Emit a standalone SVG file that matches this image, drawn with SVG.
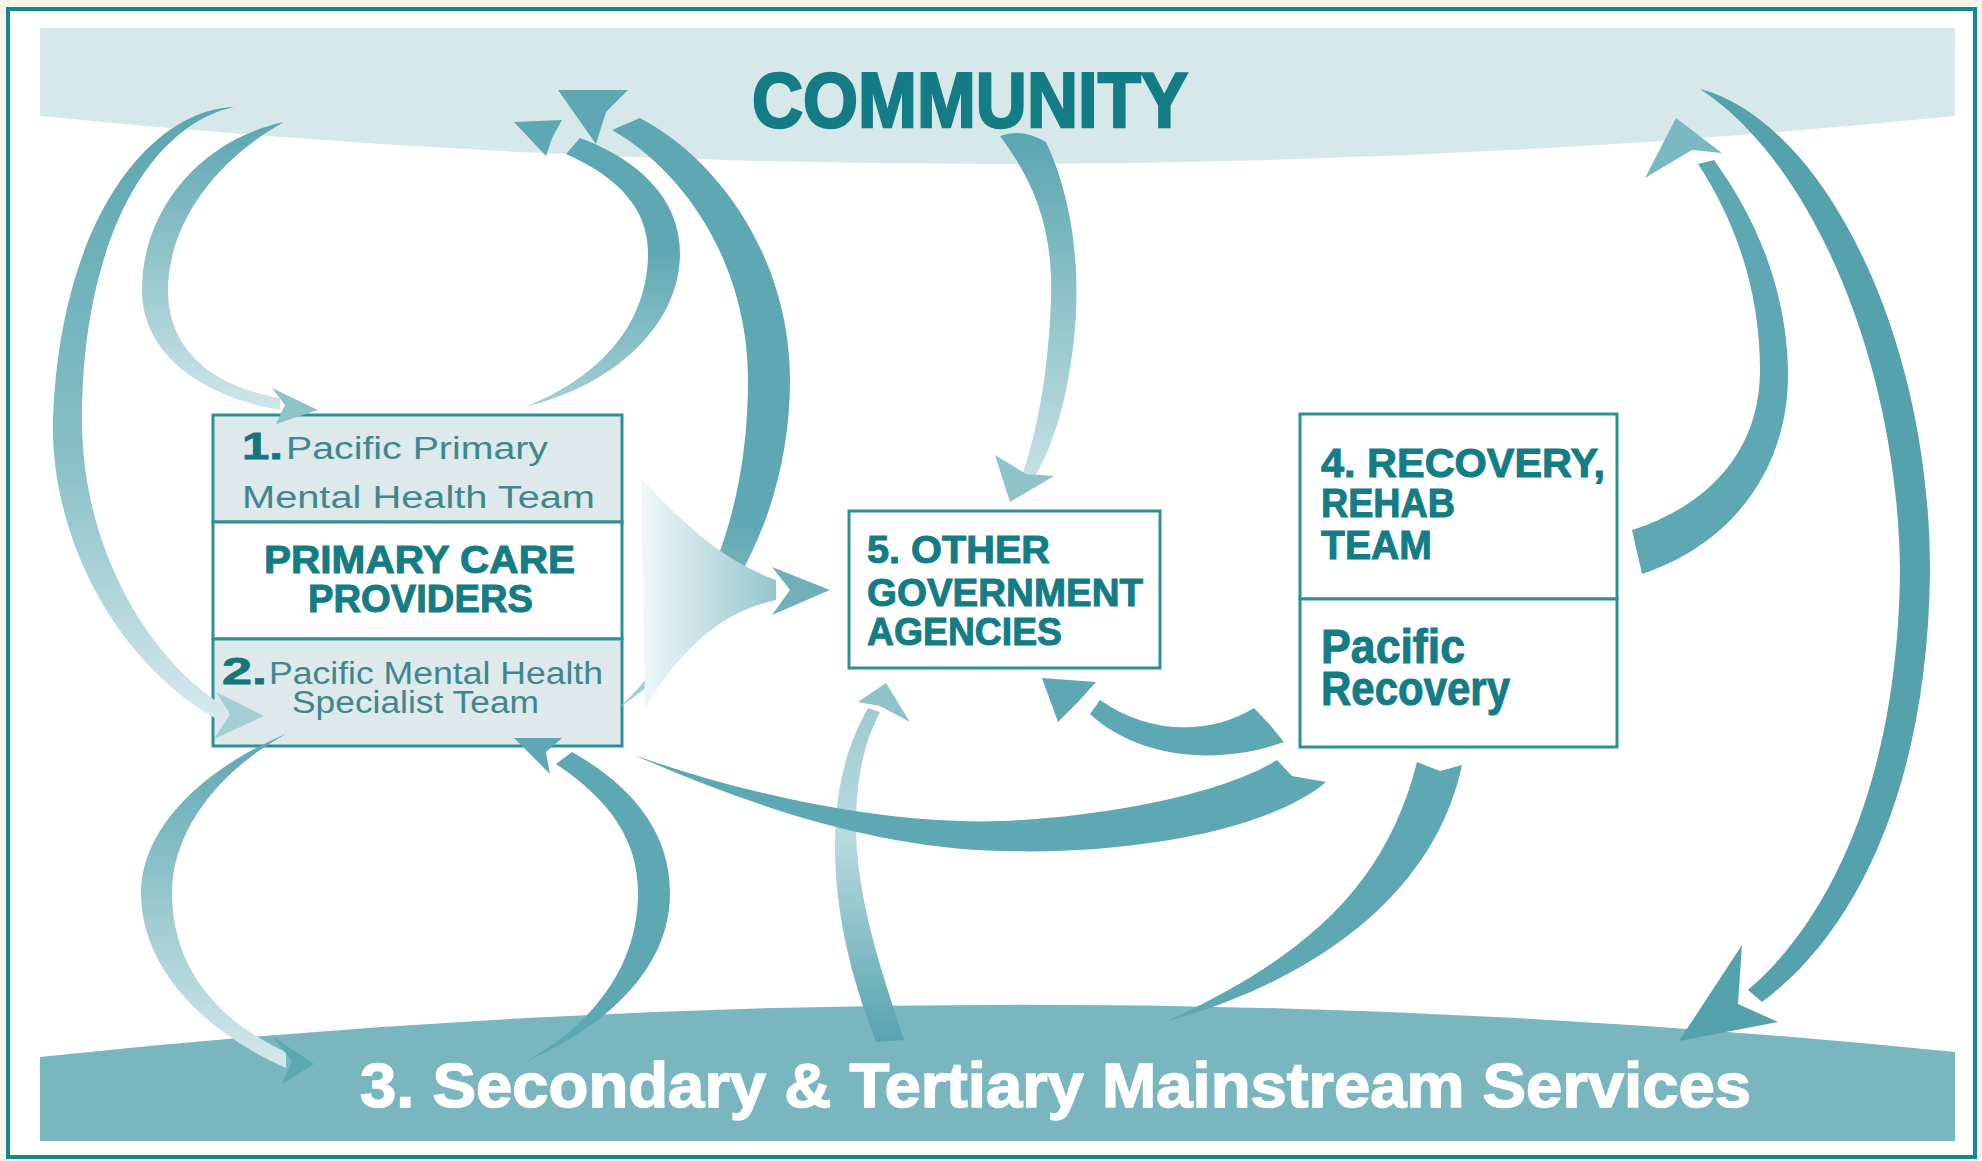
<svg xmlns="http://www.w3.org/2000/svg" width="1982" height="1161" viewBox="0 0 1982 1161">
<style>
.band-top{fill:#d7e8ea}
.band-bot{fill:#79b6bf}
.box{fill:#ffffff;stroke:#2f8f96;stroke-width:3}
.row{fill:#dde9eb;stroke:#2f8f96;stroke-width:3}
.h{font-family:"Liberation Sans",Arial,sans-serif;font-weight:bold;fill:#137c84;stroke:#137c84;stroke-width:1;paint-order:stroke}
.s{font-family:"Liberation Sans",Arial,sans-serif;font-weight:normal;fill:#3f878c}
.n{font-family:"Liberation Sans",Arial,sans-serif;font-weight:bold;fill:#17747a;stroke:#17747a;stroke-width:0.8}
.arr{fill:#5ea8b3}
.dark{fill:#55a2ad}
</style>
<defs>
<linearGradient id="gA" gradientUnits="userSpaceOnUse" x1="0" y1="107" x2="0" y2="730"><stop offset="0" stop-color="#5ca6b1"/><stop offset="0.55" stop-color="#86bec6"/><stop offset="1" stop-color="#d8ebee"/></linearGradient>
<linearGradient id="gB" gradientUnits="userSpaceOnUse" x1="0" y1="122" x2="0" y2="420"><stop offset="0" stop-color="#5ca6b1"/><stop offset="1" stop-color="#d3e8eb"/></linearGradient>
<linearGradient id="gC" gradientUnits="userSpaceOnUse" x1="0" y1="407" x2="0" y2="250"><stop offset="0" stop-color="#a5cfd5"/><stop offset="1" stop-color="#5ea8b3"/></linearGradient>
<linearGradient id="gD" gradientUnits="userSpaceOnUse" x1="0" y1="708" x2="0" y2="520"><stop offset="0" stop-color="#a9d1d7"/><stop offset="1" stop-color="#5ea8b3"/></linearGradient>
<linearGradient id="gE" gradientUnits="userSpaceOnUse" x1="640" y1="0" x2="830" y2="0"><stop offset="0" stop-color="#f2f8f9"/><stop offset="1" stop-color="#6fb1bb"/></linearGradient>
<linearGradient id="gF" gradientUnits="userSpaceOnUse" x1="0" y1="135" x2="0" y2="480"><stop offset="0" stop-color="#5aa5b0"/><stop offset="1" stop-color="#c6e1e5"/></linearGradient>
<linearGradient id="gG" gradientUnits="userSpaceOnUse" x1="0" y1="734" x2="0" y2="1070"><stop offset="0" stop-color="#5ca6b1"/><stop offset="1" stop-color="#d5e9ec"/></linearGradient>
<linearGradient id="gI" gradientUnits="userSpaceOnUse" x1="0" y1="1042" x2="0" y2="700"><stop offset="0" stop-color="#56a3ae"/><stop offset="0.6" stop-color="#b9dadf"/><stop offset="1" stop-color="#9ccad1"/></linearGradient>
</defs>

<rect x="0" y="0" width="1982" height="1161" fill="#f8f4ea"/>
<rect x="8" y="9" width="1967" height="1148" fill="#ffffff" stroke="#16878d" stroke-width="4"/>

<g id="community">
<path class="band-top" d="M40,28 L1955,28 L1955,116 Q997,212 40,116 Z"/>
<text class="h" x="752" y="127" font-size="78" textLength="436" lengthAdjust="spacingAndGlyphs" style="stroke-width:2.5">COMMUNITY</text>
</g>

<g id="secondary">
<path class="band-bot" d="M40,1057 Q997,955 1955,1052 L1955,1141 L40,1141 Z"/>
<text x="360" y="1107" font-family="Liberation Sans, Arial, sans-serif" font-weight="bold" font-size="63" fill="#ffffff" stroke="#ffffff" stroke-width="1.5" textLength="1391" lengthAdjust="spacingAndGlyphs">3. Secondary &amp; Tertiary Mainstream Services</text>
</g>

<g id="primary-care">
<rect class="row" x="213" y="415" width="409" height="107"/>
<rect class="box" x="213" y="522" width="409" height="117"/>
<rect class="row" x="213" y="639" width="409" height="107"/>
<text class="n" x="242" y="459" font-size="36" textLength="41" lengthAdjust="spacingAndGlyphs">1.</text>
<text class="s" x="286" y="459" font-size="31" textLength="262" lengthAdjust="spacingAndGlyphs">Pacific Primary</text>
<text class="s" x="242" y="508" font-size="31" textLength="353" lengthAdjust="spacingAndGlyphs">Mental Health Team</text>
<text class="h" x="264" y="573" font-size="38" textLength="311" lengthAdjust="spacingAndGlyphs">PRIMARY CARE</text>
<text class="h" x="308" y="612" font-size="38" textLength="225" lengthAdjust="spacingAndGlyphs">PROVIDERS</text>
<text class="n" x="222" y="684" font-size="36" textLength="45" lengthAdjust="spacingAndGlyphs">2.</text>
<text class="s" x="269" y="684" font-size="31" textLength="334" lengthAdjust="spacingAndGlyphs">Pacific Mental Health</text>
<text class="s" x="292" y="713" font-size="31" textLength="247" lengthAdjust="spacingAndGlyphs">Specialist Team</text>
</g>

<g id="other-gov">
<rect class="box" x="849" y="511" width="311" height="157"/>
<text class="h" x="867" y="563" font-size="38" textLength="183" lengthAdjust="spacingAndGlyphs">5. OTHER</text>
<text class="h" x="867" y="606" font-size="38" textLength="276" lengthAdjust="spacingAndGlyphs">GOVERNMENT</text>
<text class="h" x="867" y="645" font-size="38" textLength="195" lengthAdjust="spacingAndGlyphs">AGENCIES</text>
</g>

<g id="recovery">
<rect class="box" x="1300" y="414" width="317" height="185"/>
<rect class="box" x="1300" y="599" width="317" height="148"/>
<text class="h" x="1321" y="477" font-size="40" textLength="284" lengthAdjust="spacingAndGlyphs">4. RECOVERY,</text>
<text class="h" x="1321" y="517" font-size="40" textLength="134" lengthAdjust="spacingAndGlyphs">REHAB</text>
<text class="h" x="1321" y="559" font-size="40" textLength="111" lengthAdjust="spacingAndGlyphs">TEAM</text>
<text class="h" x="1321" y="663" font-size="48" textLength="144" lengthAdjust="spacingAndGlyphs">Pacific</text>
<text class="h" x="1321" y="705" font-size="48" textLength="189" lengthAdjust="spacingAndGlyphs">Recovery</text>
</g>

<g id="connectors">
<!-- A: community to specialist team -->
<path fill="url(#gA)" d="M234,107 C150,110 60,220 53,420 C50,540 120,670 226,724 L224,706 C150,660 82,550 82,420 C82,240 150,125 234,107 Z"/>
<polygon fill="#a2ced4" points="264,716 216,692 230,714 214,739"/>
<!-- B: community to primary team -->
<path fill="url(#gB)" d="M284,122 C200,140 142,210 142,290 C142,350 195,395 280,410 L280,398 C205,385 168,345 168,290 C168,225 215,160 284,122 Z"/>
<polygon fill="#8ec3ca" points="318,410 272,388 285,405 276,424"/>
<!-- C: primary team to community -->
<path fill="url(#gC)" d="M525,407 C615,385 680,325 680,253 C680,200 640,160 580,138 L566,154 C620,178 648,210 648,253 C648,320 605,375 525,407 Z"/>
<polygon class="arr" points="514,122 562,120 552,138 546,156"/>
<!-- D: specialist team to community -->
<path fill="url(#gD)" d="M619,708 C720,640 790,520 790,380 C790,260 720,160 640,118 L612,130 C690,175 748,270 748,380 C748,520 700,630 619,708 Z"/>
<polygon class="arr" points="558,90 628,90 606,112 596,144"/>
<!-- E: primary care to other government -->
<path fill="url(#gE)" d="M641,478 C680,520 720,560 776,580 L776,600 C720,612 680,650 645,708 Z"/>
<polygon fill="#6fb1bb" points="830,590 772,567 790,590 772,615"/>
<!-- F: community to other government -->
<path fill="url(#gF)" d="M1000,136 Q1022,128 1046,142 C1078,210 1085,300 1066,390 C1058,430 1045,460 1034,478 L1022,476 C1034,440 1046,390 1050,320 C1056,240 1040,190 1000,136 Z"/>
<polygon fill="#8ec3ca" points="1010,502 995,455 1026,474 1054,476"/>
<!-- G: specialist team to secondary -->
<path fill="url(#gG)" d="M286,734 C200,770 141,830 141,893 C141,965 200,1030 286,1068 L286,1052 C215,1020 172,965 172,893 C172,830 220,770 286,734 Z"/>
<polygon class="arr" points="314,1064 272,1036 292,1061 282,1084"/>
<!-- H: secondary to specialist team -->
<path class="arr" d="M525,1062 C620,1020 670,960 670,893 C670,830 630,785 572,752 L556,764 C610,800 638,840 638,893 C638,960 600,1020 525,1062 Z"/>
<polygon class="arr" points="514,738 562,738 546,752 550,774"/>
<!-- I: secondary to other government -->
<path fill="url(#gI)" d="M876,1042 L904,1040 C885,980 855,900 856,820 C857,770 866,740 880,712 L868,708 C850,740 836,780 835,840 C834,920 856,990 876,1042 Z"/>
<polygon fill="#8ec3ca" points="886,683 858,702 880,706 910,722"/>
<!-- J: recovery to other government -->
<path class="arr" d="M1254,708 C1210,735 1150,735 1100,700 L1090,714 C1140,760 1220,765 1284,742 L1270,725 Z"/>
<polygon class="arr" points="1042,678 1096,682 1078,702 1058,722"/>
<!-- K: recovery to primary care -->
<path class="arr" d="M634,755 C760,800 900,825 1002,821 C1120,816 1230,790 1277,760 L1292,776 L1326,782 C1270,830 1130,855 1002,851 C880,848 760,810 634,755 Z"/>
<!-- L: recovery to secondary -->
<path class="arr" d="M1417,762 L1440,771 L1462,765 C1440,870 1350,970 1165,1022 C1300,960 1385,890 1417,762 Z"/>
<!-- M: recovery to community -->
<path class="arr" d="M1632,530 L1642,574 C1730,545 1790,470 1788,370 C1786,280 1750,210 1714,160 L1698,164 C1735,220 1760,290 1760,370 C1760,450 1710,505 1632,530 Z"/>
<polygon fill="#7ab9c2" points="1676,118 1722,153 1692,150 1645,178"/>
<!-- N: community to secondary -->
<path class="dark" d="M1700,89 C1820,120 1930,330 1930,571 C1928,780 1860,930 1762,1002 L1748,990 C1830,920 1898,780 1900,571 C1898,360 1810,160 1700,89 Z"/>
<polygon class="dark" points="1679,1041 1742,945 1738,1004 1778,1022"/>
</g>
</svg>
